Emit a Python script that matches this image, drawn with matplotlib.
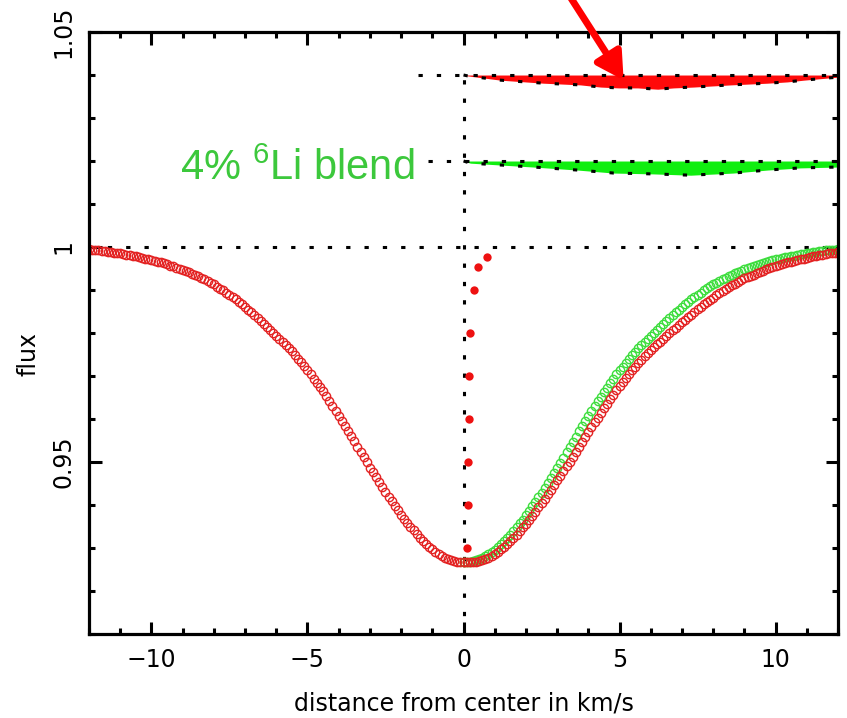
import numpy as np
import matplotlib
matplotlib.use("Agg")
import matplotlib.pyplot as plt
from matplotlib.ticker import MultipleLocator, FuncFormatter

# --- dados ---
# perfil vermelho, lado esquerdo (x de -12 a 0, passo 0.1)
x_esq = np.linspace(-12, 0, 121)
fluxo_esq = [
    .9995, .9994, .9993, .9992, .9991, .9990, .9989, .9988, .9987, .9986,
    .9985, .9983, .9982, .9981, .9979, .9978, .9976, .9975, .9973, .9972,
    .9970, .9968, .9966, .9964, .9962, .9960, .9957, .9955, .9952, .9950,
    .9947, .9944, .9941, .9938, .9935, .9932, .9928, .9925, .9921, .9917,
    .9913, .9908, .9903, .9899, .9894, .9889, .9883, .9878, .9872, .9867,
    .9861, .9854, .9848, .9841, .9835, .9828, .9821, .9814, .9807, .9800,
    .9793, .9786, .9779, .9772, .9764, .9757, .9749, .9740, .9732, .9723,
    .9714, .9704, .9694, .9684, .9674, .9664, .9653, .9642, .9631, .9619,
    .9608, .9596, .9584, .9572, .9560, .9548, .9536, .9524, .9511, .9499,
    .9487, .9476, .9464, .9453, .9441, .9430, .9419, .9409, .9398, .9388,
    .9377, .9368, .9358, .9349, .9341, .9332, .9324, .9317, .9310, .9303,
    .9297, .9291, .9286, .9281, .9277, .9274, .9272, .9270, .9268, .9267,
    .9267,
]

# lado direito (x de 0 a 12, passo 0.1)
x_dir = np.linspace(0, 12, 121)
fluxo_verde = [
    .9267, .9267, .9268, .9270, .9272, .9274, .9277, .9281, .9285, .9290,
    .9296, .9302, .9309, .9316, .9323, .9331, .9339, .9348, .9357, .9366,
    .9376, .9386, .9397, .9407, .9418, .9429, .9440, .9452, .9463, .9475,
    .9486, .9498, .9510, .9523, .9535, .9547, .9559, .9571, .9583, .9595,
    .9607, .9619, .9630, .9641, .9652, .9663, .9673, .9684, .9694, .9704,
    .9713, .9722, .9731, .9740, .9748, .9756, .9764, .9771, .9779, .9786,
    .9793, .9800, .9807, .9814, .9821, .9828, .9835, .9841, .9848, .9854,
    .9861, .9867, .9873, .9878, .9884, .9889, .9894, .9899, .9904, .9909,
    .9913, .9917, .9921, .9925, .9929, .9933, .9936, .9939, .9942, .9945,
    .9948, .9951, .9953, .9956, .9958, .9961, .9963, .9965, .9967, .9969,
    .9971, .9973, .9974, .9976, .9977, .9979, .9980, .9982, .9983, .9984,
    .9986, .9987, .9988, .9989, .9990, .9991, .9992, .9993, .9994, .9994,
    .9995,
]
fluxo_dir = [
    .9268, .9267, .9267, .9267, .9268, .9270, .9272, .9274, .9277, .9281,
    .9286, .9291, .9297, .9303, .9310, .9317, .9324, .9331, .9340, .9348,
    .9356, .9366, .9374, .9384, .9395, .9405, .9415, .9425, .9435, .9446,
    .9458, .9468, .9479, .9490, .9501, .9512, .9524, .9536, .9547, .9558,
    .9570, .9581, .9592, .9603, .9614, .9625, .9636, .9646, .9656, .9667,
    .9676, .9685, .9695, .9704, .9713, .9722, .9730, .9738, .9746, .9753,
    .9761, .9767, .9774, .9780, .9787, .9793, .9799, .9806, .9812, .9818,
    .9825, .9831, .9837, .9843, .9849, .9855, .9861, .9867, .9872, .9877,
    .9882, .9888, .9893, .9897, .9902, .9906, .9911, .9915, .9919, .9923,
    .9927, .9930, .9933, .9936, .9939, .9942, .9945, .9948, .9951, .9953,
    .9956, .9958, .9960, .9962, .9964, .9966, .9968, .9970, .9972, .9973,
    .9975, .9976, .9978, .9979, .9981, .9982, .9983, .9985, .9986, .9987,
    .9988,
]

# bissetor (pontos vermelhos cheios)
bis_x = [0.10, 0.13, 0.13, 0.16, 0.19, 0.22, 0.32, 0.45, 0.74]
bis_y = [0.93, 0.94, 0.95, 0.96, 0.97, 0.98, 0.99, 0.9954, 0.9977]

# faixas de diferenca no topo
nivel_vermelho = 1.04
faixa_verm_x = [0, 0.13, 1.19, 2.56, 3.75, 4.39, 4.97, 5.58, 6.22, 6.73, 7.37, 8.56, 9.74, 10.38, 10.90, 11.67, 12.0]
faixa_verm_y = [1.0400, 1.0398, 1.0388, 1.0381, 1.0377, 1.0372, 1.0370, 1.0370, 1.0367, 1.0370, 1.0372,
                1.0377, 1.0381, 1.0384, 1.0388, 1.0393, 1.0395]
nivel_verde = 1.02
faixa_verde_x = [0, 0.22, 2.24, 3.65, 4.81, 6.09, 7.28, 8.65, 9.74, 10.80, 12.0]
faixa_verde_y = [1.0200, 1.0195, 1.0186, 1.0179, 1.0172, 1.0170, 1.0167, 1.0172, 1.0179, 1.0184, 1.0186]

inicio_verm = -1.45
inicio_verde = -1.15
continuo = 1.0

# --- figura ---
fig = plt.figure(figsize=(8.47, 7.18), dpi=100)
ax = fig.add_axes([0.1051, 0.1170, 0.8843, 0.8384])
ax.set_xlim(-12, 12)
ax.set_ylim(0.91, 1.05)

pontilhado = dict(color='black', lw=2.2, ls=(0, (1.4, 4.6)), dash_capstyle='butt')

# faixas
ax.fill_between(faixa_verm_x, nivel_vermelho, faixa_verm_y, color='#ff0a0a', lw=0)
ax.fill_between(faixa_verde_x, nivel_verde, faixa_verde_y, color='#10ee10', lw=0)
ax.plot([inicio_verm, 12], [nivel_vermelho] * 2, **pontilhado)
ax.plot([inicio_verde, 12], [nivel_verde] * 2, **pontilhado)
ax.plot(faixa_verm_x, faixa_verm_y, **pontilhado)
ax.plot(faixa_verde_x, faixa_verde_y, **pontilhado)

# linhas de referencia
ax.plot([-12, 12], [continuo] * 2, **pontilhado)
ax.plot([0, 0], [0.91, nivel_vermelho], **pontilhado)

# perfis
ax.plot(x_esq, fluxo_esq, 'o', mfc='none', mec='#e32222', ms=6, mew=1.0)
ax.plot(x_dir, fluxo_verde, 'o', mfc='none', mec='#3ddd3d', ms=6, mew=1.0)
ax.plot(x_dir, fluxo_dir, 'o', mfc='none', mec='#e32222', ms=6, mew=1.0)
ax.plot(bis_x, bis_y, 'o', color='#ee1111', ms=6, mew=0)

# seta
ax.annotate('', xy=(5.13, 1.0388), xytext=(3.30, 1.0595),
            arrowprops=dict(arrowstyle='-|>,head_length=0.8,head_width=0.45',
                            color='#ff0000', lw=5, shrinkA=0, shrinkB=0,
                            mutation_scale=20),
            annotation_clip=False)

# texto
plt.rcParams['mathtext.fontset'] = 'custom'
plt.rcParams['mathtext.rm'] = 'Liberation Sans'
ax.text(-9.1, 1.0157, r'4% $^{\mathregular{6}}$Li blend', color='#3cc83c',
        fontsize=30, family='Liberation Sans', va='baseline', ha='left')

# eixos
for s in ax.spines.values():
    s.set_linewidth(2.3)
ax.xaxis.set_major_locator(MultipleLocator(5))
ax.xaxis.set_minor_locator(MultipleLocator(1))
ax.yaxis.set_major_locator(MultipleLocator(0.05))
ax.yaxis.set_minor_locator(MultipleLocator(0.01))
ax.yaxis.set_major_formatter(FuncFormatter(lambda v, p: f'{v:g}'))
ax.tick_params(which='both', direction='in', top=True, right=True, width=2.2, labelsize=17)
ax.tick_params(which='major', length=9, pad=10)
ax.tick_params(which='minor', length=4.5)
for lab in ax.get_yticklabels():
    lab.set_rotation(90)
    lab.set_va('center')

ax.set_xlabel('distance from center in km/s', fontsize=17)
ax.set_ylabel('flux', fontsize=17)
ax.xaxis.set_label_coords(0.5, -0.095)
ax.yaxis.set_label_coords(-0.065, 0.465)

fig.savefig('out.png', dpi=100)
